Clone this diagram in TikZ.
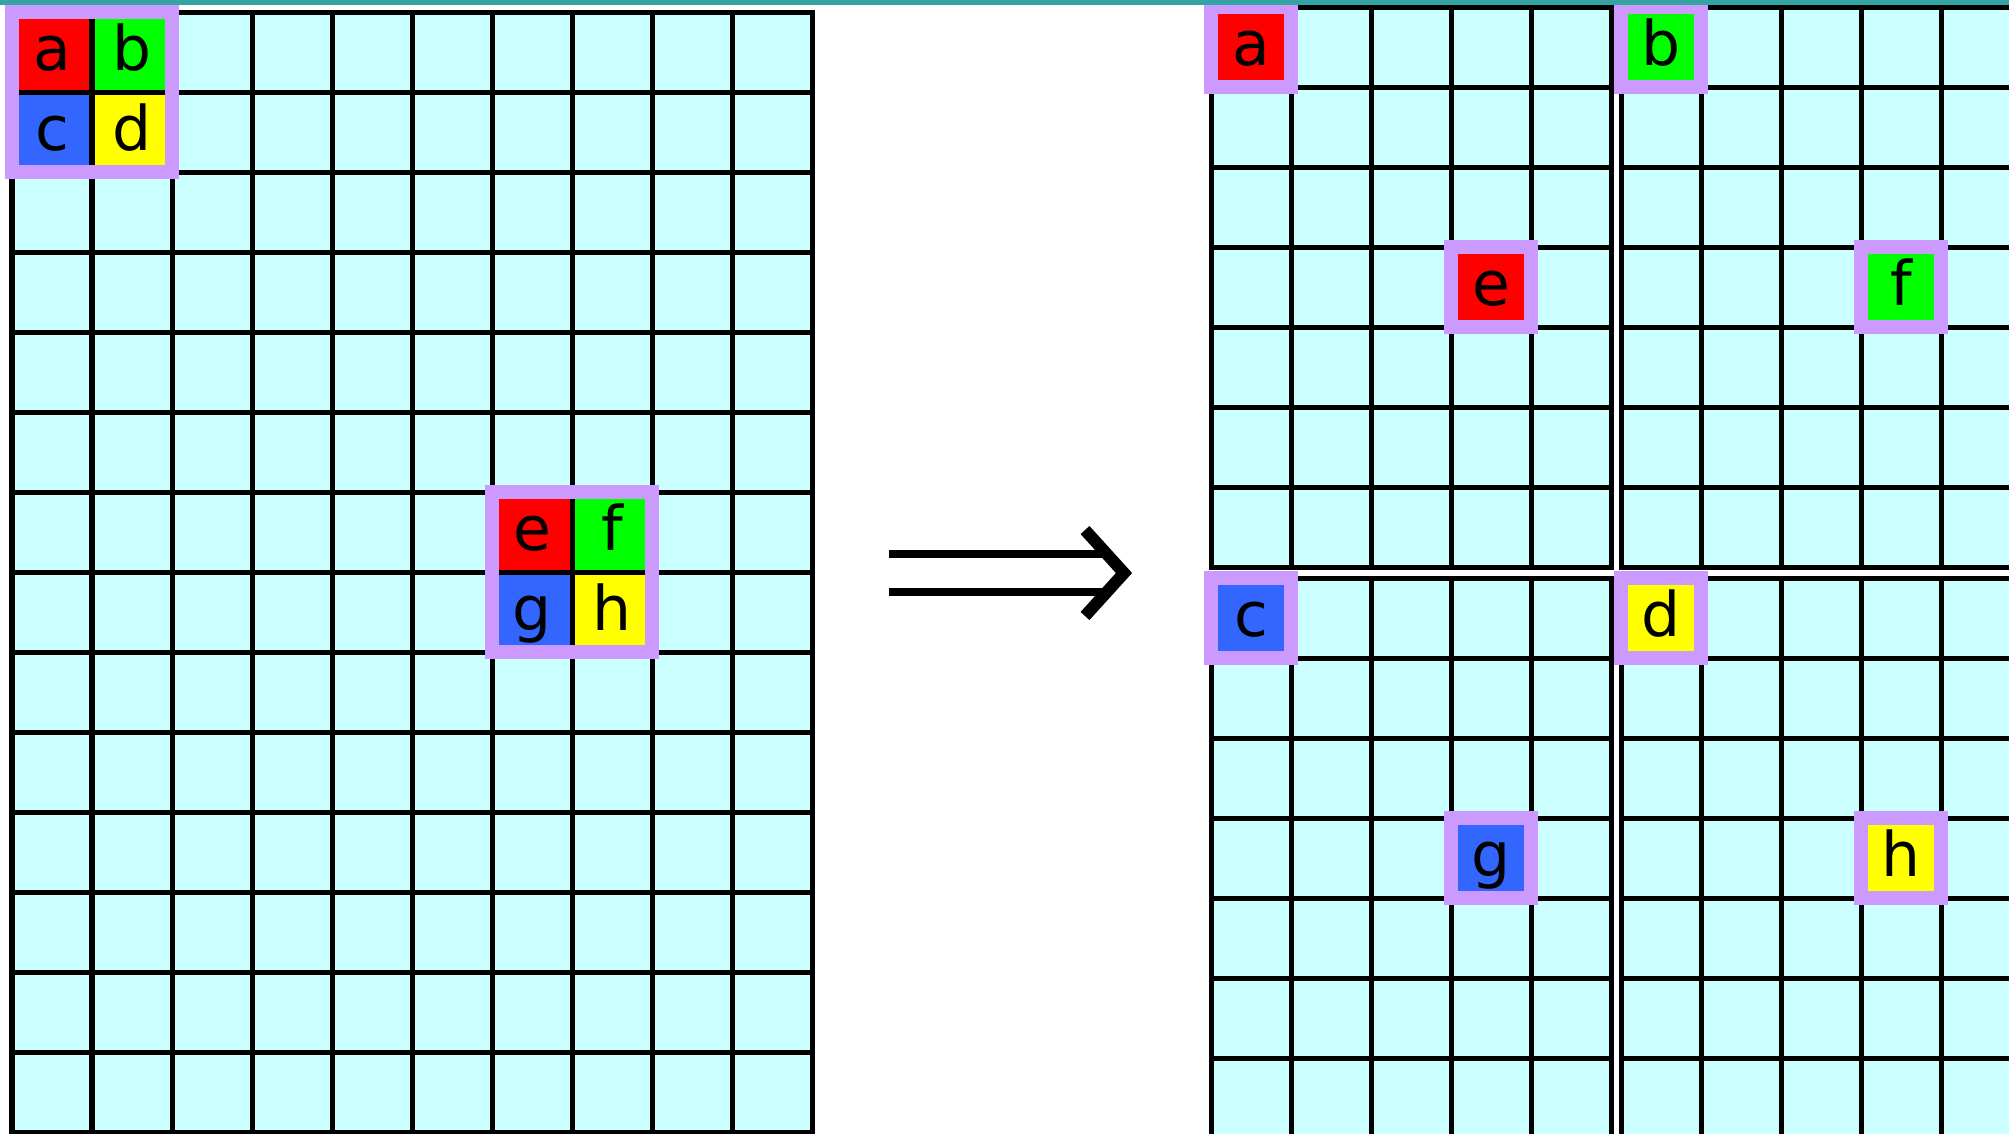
\documentclass[tikz,border=0pt]{standalone}
\usepackage{fontspec}
\usepackage{tikz}
\newfontfamily\tilefont{DejaVu Sans}
\definecolor{cellcyan}{RGB}{204,255,255}
\definecolor{framelilac}{RGB}{204,153,255}
\definecolor{tilered}{RGB}{255,0,0}
\definecolor{tilegreen}{RGB}{0,255,0}
\definecolor{tileblue}{RGB}{51,102,255}
\definecolor{tileyellow}{RGB}{255,255,0}
\definecolor{barteal}{RGB}{51,163,163}
\tikzset{
  gridline/.style={line width=0.05cm,draw=black,line cap=rect},
  tile/.style={minimum size=0.8cm,inner sep=0pt,outer sep=0pt,text=black,
    font=\tilefont\fontsize{17.5}{20}\selectfont,text height=0.46cm,text depth=0.1cm},
  framed/.style={draw=framelilac,line width=0.14cm},
  lonetile/.style={tile,framed},
  implies/.style={double,double distance=0.3cm,line width=0.08cm,draw=black},
  chevron/.style={line width=0.12cm,draw=black,line join=miter}
}

\begin{document}
\begin{tikzpicture}[x=0.01cm,y=-0.01cm]
  \useasboundingbox (0,0) rectangle (2009,1133);
  \clip (0,0) rectangle (2009,1133);

  % source grid
  \fill[cellcyan] (12,12) rectangle (812,1132);
  \node[tile,fill=tilered] (la) at (52,52) {a};
  \node[tile,fill=tilegreen] (lb) at (132,52) {b};
  \node[tile,fill=tileblue] (lc) at (52,132) {c};
  \node[tile,fill=tileyellow] (ld) at (132,132) {d};
  \node[tile,fill=tilered] (le) at (532,532) {e};
  \node[tile,fill=tilegreen] (lf) at (612,532) {f};
  \node[tile,fill=tileblue] (lg) at (532,612) {g};
  \node[tile,fill=tileyellow] (lh) at (612,612) {h};
  \foreach \i in {0,...,10} \draw[gridline] (12+80*\i,12) -- (12+80*\i,1132);
  \foreach \j in {0,...,14} \draw[gridline] (12,12+80*\j) -- (812,12+80*\j);
  \draw[framed] (la.north west) rectangle (ld.south east);
  \draw[framed] (le.north west) rectangle (lh.south east);

  % arrow
  \coordinate (arrowtail) at (889,573);
  \coordinate (arrowtip) at (1133,573);
  \draw[implies] (arrowtail) -- ([xshift=-0.22cm]arrowtip);
  \draw[chevron] ([shift={(-48,-43)}]arrowtip) -- ([xshift=-0.09cm]arrowtip)
    -- ([shift={(-48,43)}]arrowtip);

  % four target grids
  \foreach \ox/\oy in {1211/7,1621/7,1211/578,1621/578}{
    \fill[cellcyan] (\ox,\oy) rectangle (\ox+400,\oy+560);
    \foreach \i in {0,...,5} \draw[gridline] (\ox+80*\i,\oy) -- (\ox+80*\i,\oy+560);
    \foreach \j in {0,...,7} \draw[gridline] (\ox,\oy+80*\j) -- (\ox+400,\oy+80*\j);
  }
  \node[lonetile,fill=tilered] (ra) at (1251,47) {a};
  \node[lonetile,fill=tilegreen] (rb) at (1661,47) {b};
  \node[lonetile,fill=tilered] (re) at (1491,287) {e};
  \node[lonetile,fill=tilegreen] (rf) at (1901,287) {f};
  \node[lonetile,fill=tileblue] (rc) at (1251,618) {c};
  \node[lonetile,fill=tileyellow] (rd) at (1661,618) {d};
  \node[lonetile,fill=tileblue] (rg) at (1491,858) {g};
  \node[lonetile,fill=tileyellow] (rh) at (1901,858) {h};

  \fill[barteal] (0,0) rectangle (2009,5);
\end{tikzpicture}
\end{document}
